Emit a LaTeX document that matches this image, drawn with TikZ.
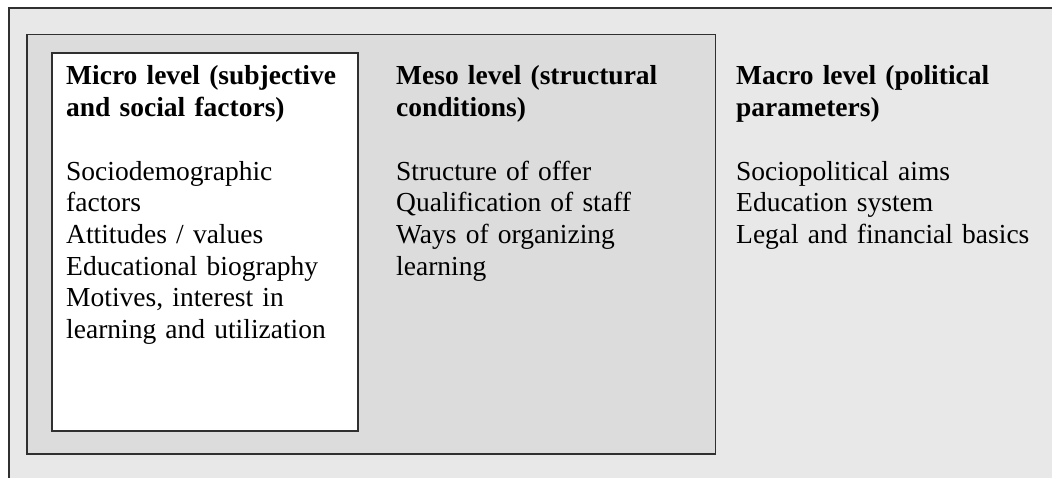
\documentclass[tikz,border=0pt]{standalone}
\usepackage{fontspec}
\setmainfont{Liberation Serif}
\usepackage{xcolor}
\definecolor{outerfill}{HTML}{E8E8E8}
\definecolor{mesofill}{HTML}{DCDCDC}
\definecolor{edge}{HTML}{303030}
\tikzset{
  levelbox/.style = {draw = edge, line width = 1.6pt},
  leveltext/.style = {anchor = base west, inner sep = 0pt, text width = 310pt, align = left,
    font = \fontsize{27.5}{31.7}\selectfont}
}
\begin{document}
\begin{tikzpicture}[x = 1pt, y = -1pt]
\useasboundingbox (0,0) rectangle (1052,478);
\clip (0,0) rectangle (1052,478);
\fill[white] (0,0) rectangle (1052,478);
\filldraw[levelbox, fill = outerfill] (9,8) rectangle (1070,500);
\filldraw[levelbox, fill = mesofill] (27,34.5) rectangle (715.5,454);
\filldraw[levelbox, fill = white] (52,53) rectangle (358,431);
\path (66,85) node[leveltext] (micro) {\textbf{Micro level (subjective}\\ \textbf{and social factors)}\\ \mbox{}\\
Sociodemographic\\ factors\\ Attitudes / values\\ Educational biography\\ Motives, interest in\\ learning and utilization};
\path (396,85) node[leveltext] (meso) {\textbf{Meso level (structural}\\ \textbf{conditions)}\\ \mbox{}\\
Structure of offer\\ Qualification of staff\\ Ways of organizing\\ learning};
\path (736,85) node[leveltext] (macro) {\textbf{Macro level (political}\\ \textbf{parameters)}\\ \mbox{}\\
Sociopolitical aims\\ Education system\\ Legal and financial basics};
\end{tikzpicture}
\end{document}
